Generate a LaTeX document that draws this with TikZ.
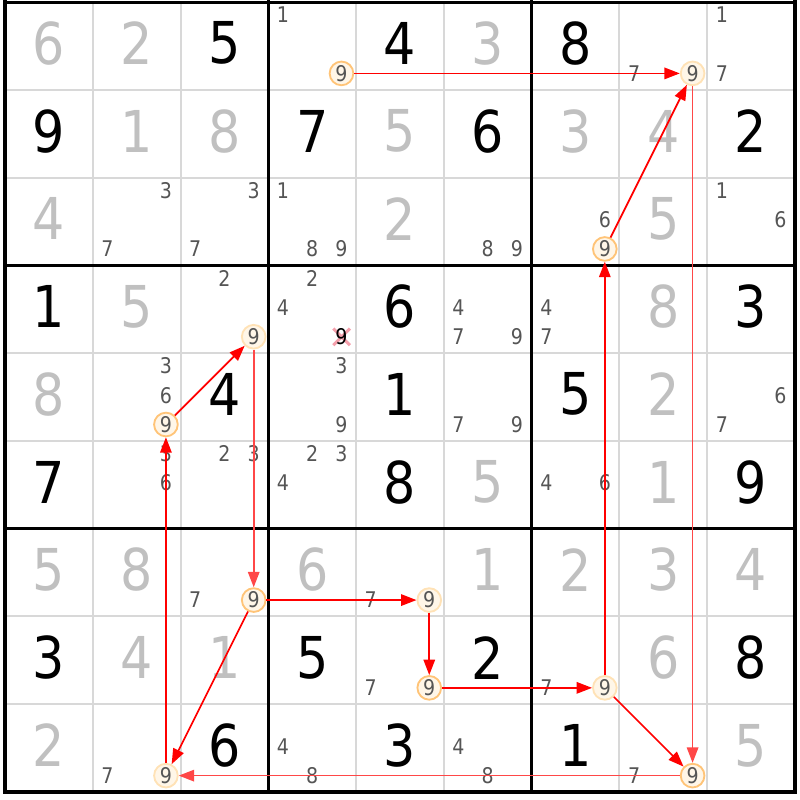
\documentclass[tikz,border=0pt]{standalone}
\usepackage{fontspec}
\setmainfont{DejaVu Sans}[FakeStretch=0.88]
\usepackage{tikz}
\usetikzlibrary{arrows.meta}

\definecolor{givengray}{RGB}{192,192,192}
\definecolor{candgray}{RGB}{85,85,85}
\definecolor{gridgray}{RGB}{216,216,216}
\definecolor{ringon}{RGB}{255,196,120}
\definecolor{ringoff}{RGB}{255,226,182}
\definecolor{ringfill}{RGB}{255,246,232}
\definecolor{crosspink}{RGB}{244,160,172}

\begin{document}
\begin{tikzpicture}[x=1cm,y=1cm,
  given/.style={inner sep=0pt,font=\fontsize{18.7}{20}\selectfont},
  solved/.style={given,text=givengray},
  cand/.style={inner sep=0pt,text=candgray,font=\fontsize{7}{8}\selectfont},
  ring node/.style={circle,cand,draw=ringon,fill=ringfill,line width=0.6pt,minimum size=0.27cm},
  faint ring/.style={ring node,draw=ringoff},
  link/.style={-{Triangle[length=1.75mm,width=1.3mm]},red,line width=0.55pt},
  faint link/.style={link,red!72}]

  \useasboundingbox (-0.057,-0.091) rectangle (9.057,9.023);

  % cell lines
  \foreach \i in {1,...,8}{
    \draw[gridgray,line width=0.65pt] (\i,0) -- (\i,9);
    \draw[gridgray,line width=0.65pt] (0,\i) -- (9,\i);
  }
  % box lines
  \draw[line width=1pt,line cap=rect] (0,0) grid[step=3] (9,9);

  % givens
  \foreach \r/\c/\d in {1/3/5,1/5/4,1/7/8,2/1/9,2/4/7,2/6/6,2/9/2,4/1/1,4/5/6,4/9/3,
      5/3/4,5/5/1,5/7/5,6/1/7,6/5/8,6/9/9,8/1/3,8/4/5,8/6/2,8/9/8,9/3/6,9/5/3,9/7/1}
    \node[given] (g\r\c) at (\c-0.5,9.53-\r) {\d};

  % solved cells
  \foreach \r/\c/\d in {1/1/6,1/2/2,1/6/3,2/2/1,2/3/8,2/5/5,2/7/3,2/8/4,3/1/4,3/5/2,3/8/5,
      4/2/5,4/8/8,5/1/8,5/8/2,6/6/5,6/8/1,7/1/5,7/2/8,7/4/6,7/6/1,7/7/2,7/8/3,7/9/4,
      8/2/4,8/3/1,8/8/6,9/1/2,9/9/5}
    \node[solved] (s\r\c) at (\c-0.5,9.53-\r) {\d};

  % pencil marks
  \foreach \r/\c/\ds in {1/4/{1},1/8/{7},1/9/{1,7},3/2/{3,7},3/3/{3,7},3/4/{1,8,9},
      3/6/{8,9},3/7/{6},3/9/{1,6},4/3/{2},4/4/{2,4},4/6/{4,7,9},4/7/{4,7},
      5/2/{3,6},5/4/{3,9},5/6/{7,9},5/9/{6,7},6/2/{3,6},6/3/{2,3},6/4/{2,3,4},
      6/7/{4,6},7/3/{7},7/5/{7},8/5/{7},8/7/{7},9/2/{7},9/4/{4,8},9/6/{4,8},9/8/{7}}
    \foreach \d in \ds
      \node[cand] (c\r\c\d) at ({\c-1+(2*mod(\d-1,3)+1)/6},{10.02-\r-(2*int((\d-1)/3)+1)/6}) {\d};

  % eliminated 9
  \draw[crosspink,line width=1pt] (3.74,5.09) -- (3.93,5.28) (3.74,5.28) -- (3.93,5.09);
  \node[cand,text=black] (x44) at (4-1/6,5+1/6+0.02) {9};

  % chain of 9s
  \foreach \r/\c/\s in {1/4/ring node,1/8/faint ring,3/7/ring node,4/3/faint ring,
      5/2/ring node,7/3/ring node,7/5/faint ring,8/5/ring node,8/7/faint ring,
      9/2/faint ring,9/8/ring node}
    \node[\s] (n\r\c) at ({\c-1/6},{9-\r+1/6+0.02}) {9};

  \path[link] (n14) edge (n18)
    (n37) edge (n18)
    (n92) edge (n52)
    (n52) edge (n43)
    (n73) edge (n92)
          edge (n75)
    (n75) edge (n85)
    (n85) edge (n87)
    (n87) edge (n98)
          edge (n37);
  \path[faint link] (n18) edge (n98)
    (n98) edge (n92)
    (n43) edge (n73);

\end{tikzpicture}
\end{document}
